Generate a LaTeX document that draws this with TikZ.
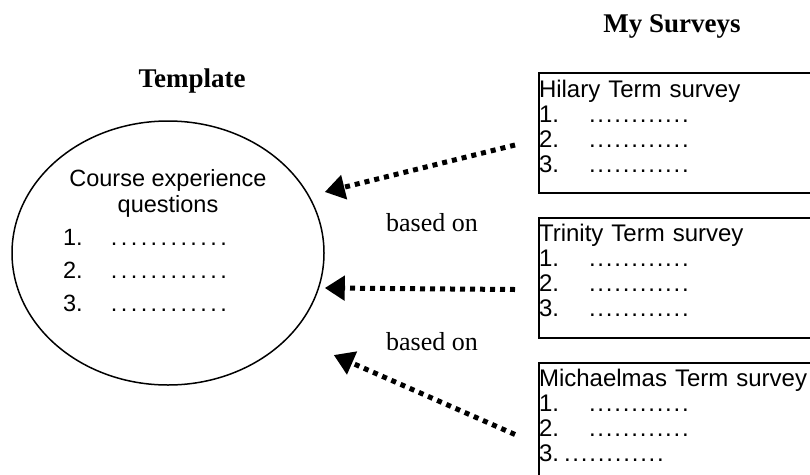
\documentclass[tikz,border=0pt]{standalone}
\usepackage{fontspec}
\setmainfont{Liberation Serif}
\setsansfont{Liberation Sans}
\usetikzlibrary{arrows.meta,shapes.geometric}
\newcommand{\dd}[1]{.\kern#1}
\newcommand{\dotrow}[1]{\dd{#1}\dd{#1}\dd{#1}\dd{#1}\dd{#1}\dd{#1}\dd{#1}\dd{#1}\dd{#1}\dd{#1}\dd{#1}.}
\tikzset{
  tplshape/.style={ellipse, draw, line width=1.5pt, minimum width=312pt, minimum height=264pt, inner sep=0pt},
  tpltxt/.style={anchor=base, inner sep=0pt, font=\sffamily},
  surveybox/.style={draw, line width=2pt, anchor=north west, inner xsep=0pt, inner ysep=0pt,
    text width=300pt, align=left, text height=24pt, text depth=96pt,
    font=\sffamily\fontsize{24}{25}\selectfont},
  heading/.style={anchor=base, inner sep=0pt, font=\bfseries\fontsize{27}{30}\selectfont},
  lbl/.style={anchor=base, inner sep=0pt, font=\fontsize{26}{30}\selectfont},
  basedon/.style={-{Triangle[length=20pt,width=24pt]}, line width=5pt, dash pattern=on 5pt off 5pt},
}
\begin{document}
\begin{tikzpicture}[x=1pt,y=1pt]
\useasboundingbox (0,0) rectangle (810,-474);
\clip (0,0) rectangle (810,-474);

% titles
\node[heading] (ttpl) at (192,-87) {Template};
\node[heading] (tsur) at (672,-32) {My Surveys};

% template ellipse
\node[tplshape] (tpl) at (168,-253) {};
\node[tpltxt] (tpltext) at (168,-186) {\parbox[t]{210pt}{\fontsize{23.5}{26}\selectfont\centering
  Course experience\\questions\par
  \raggedright\fontsize{23.5}{33}\selectfont
  \makebox[48pt][l]{1.}\dotrow{3.4pt}\\
  \makebox[48pt][l]{2.}\dotrow{3.4pt}\\
  \makebox[48pt][l]{3.}\dotrow{3.4pt}\par}};

% survey boxes
\node[surveybox] (hil) at (538,-72) {Hilary Term survey\\
  \makebox[50pt][l]{1.}\dotrow{1.8pt}\\
  \makebox[50pt][l]{2.}\dotrow{1.8pt}\\
  \makebox[50pt][l]{3.}\dotrow{1.8pt}};
\node[surveybox] (tri) at (538,-216.5) {Trinity Term survey\\
  \makebox[50pt][l]{1.}\dotrow{1.8pt}\\
  \makebox[50pt][l]{2.}\dotrow{1.8pt}\\
  \makebox[50pt][l]{3.}\dotrow{1.8pt}};
\node[surveybox] (mic) at (538,-361.5) {Michaelmas Term survey\\
  \makebox[50pt][l]{1.}\dotrow{1.8pt}\\
  \makebox[50pt][l]{2.}\dotrow{1.8pt}\\
  3.\kern5pt\dotrow{1.8pt}};

% labels
\node[lbl] (b1) at (432,-231) {based on};
\node[lbl] (b2) at (432,-350) {based on};

% connector end points
\coordinate (s1) at ([shift={(-23pt,-12pt)}]hil.west);
\coordinate (s2) at ([shift={(-23pt,-12pt)}]tri.west);
\coordinate (s3) at ([shift={(-23pt,-12pt)}]mic.west);
\coordinate (e1) at ([shift={(0pt,61pt)}]tpl.east);
\coordinate (e2) at ([shift={(0pt,-35pt)}]tpl.east);
\coordinate (e3) at ([shift={(9pt,-102pt)}]tpl.east);

\draw[basedon] (s1) -- (e1);
\draw[basedon] (s2) -- (e2);
\draw[basedon] (s3) -- (e3);
\end{tikzpicture}
\end{document}
